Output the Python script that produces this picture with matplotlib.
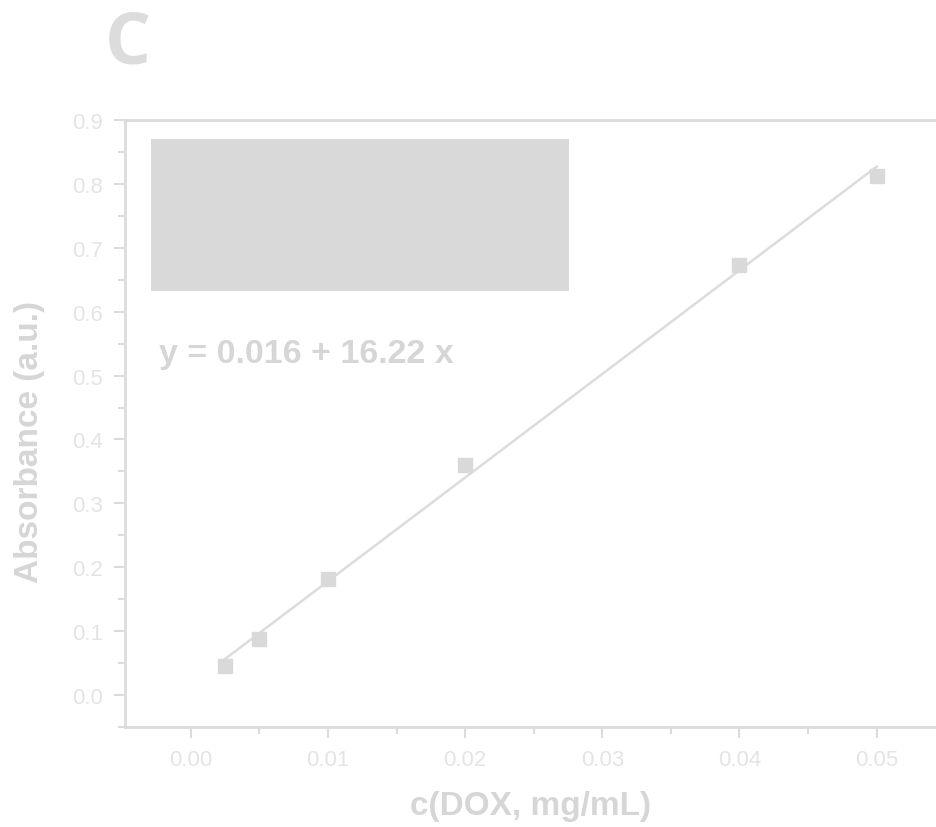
import matplotlib
matplotlib.use("Agg")
import matplotlib.pyplot as plt
from matplotlib.patches import Rectangle
from matplotlib.ticker import MultipleLocator
import numpy as np

# Calibration data: DOX concentration vs absorbance
conc = [0.0025, 0.005, 0.01, 0.02, 0.04, 0.05]
absorbance = [0.045, 0.088, 0.182, 0.360, 0.673, 0.812]
intercept = 0.016
slope = 16.22
x_ticks = [0.00, 0.01, 0.02, 0.03, 0.04, 0.05]
y_ticks = [0.0, 0.1, 0.2, 0.3, 0.4, 0.5, 0.6, 0.7, 0.8, 0.9]

plt.rcParams['font.family'] = ['Liberation Sans', 'DejaVu Sans']

line_c = '#dcdcdc'
tick_c = '#e4e4e4'
label_c = '#d6d6d6'

fig = plt.figure(figsize=(9.37, 8.28), dpi=100)
ax_l, ax_b, ax_w, ax_h = 125/937, 1 - 728/828, 1 - 125/937, (728 - 121)/828
ax = fig.add_axes([ax_l, ax_b, ax_w, ax_h])

ax.set_xlim(-0.0048, 0.0544)
ax.set_ylim(-0.05, 0.9)

# Fitted line
fx = np.array([conc[0], conc[-1]])
ax.plot(fx, intercept + slope * fx, color=line_c, lw=1.8, zorder=2)
ax.plot(conc, absorbance, ls='none', marker='s', ms=10, color='#d9d9d9',
        mec='#d9d9d9', zorder=3)

# Legend placeholder box
ax.add_patch(Rectangle((-0.0029, 0.633), 0.0305, 0.238, facecolor='#d9d9d9',
                       edgecolor='none', zorder=1))

ax.text(-0.0023, 0.535, 'y = 0.016 + 16.22 x', fontsize=24.5, fontweight='bold',
        color=label_c, va='center', ha='left')

ax.set_xticks(x_ticks)
ax.set_xticklabels([f'{v:.2f}' for v in x_ticks])
ax.set_yticks(y_ticks)
ax.set_yticklabels([f'{v:.1f}' for v in y_ticks])
ax.xaxis.set_minor_locator(MultipleLocator(0.005))
ax.yaxis.set_minor_locator(MultipleLocator(0.05))

ax.tick_params(which='major', direction='out', length=8, width=1.5,
               color=line_c, labelcolor=tick_c, labelsize=16, pad=8)
ax.tick_params(which='minor', direction='out', length=5, width=1.5, color=line_c)

for side in ['left', 'bottom', 'top']:
    ax.spines[side].set_color(line_c)
    ax.spines[side].set_linewidth(2)
ax.spines['right'].set_visible(False)

ax.set_xlabel('c(DOX, mg/mL)', fontsize=24, fontweight='bold', color=label_c,
              labelpad=14)
ax.set_ylabel('Absorbance (a.u.)', fontsize=24, fontweight='bold', color=label_c,
              va='center')
ax.yaxis.set_label_coords((30 - 125) / (ax_w * 937), (728 - 442) / (ax_h * 828))

fig.text(128/937, 1 - 45/828, 'C', fontsize=52, fontweight='bold',
         family=['Open Sans', 'DejaVu Sans'], color='#dcdcdc',
         ha='center', va='center')

fig.savefig('out.png', dpi=100, facecolor='white')
